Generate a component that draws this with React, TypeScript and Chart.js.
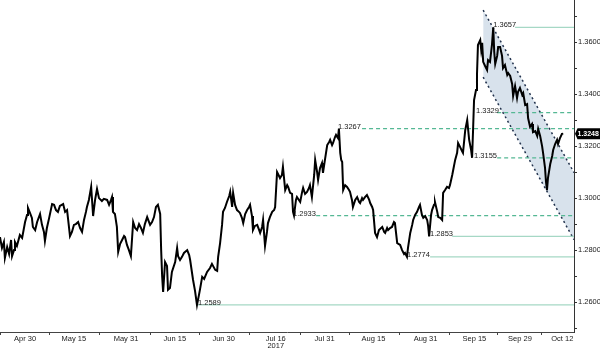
import React, { useEffect, useRef } from 'react';
import { Chart, registerables } from 'chart.js';

Chart.register(...registerables);

// x values: days since 1 Apr 2017 (Apr 30 = 29, Oct 12 = 194)
const days = [
  21.3, 21.9, 22.5, 22.8, 23.5, 24.1, 24.7, 25.0, 25.6, 25.9, 26.5, 27.4, 28.1, 29.0, 29.6, 29.9,
  30.5, 31.1, 31.4, 32.1, 32.7, 33.6, 34.2, 34.8, 35.1, 35.7, 36.4, 37.3, 37.9, 38.5, 39.1, 39.7,
  40.7, 41.3, 41.9, 42.8, 43.4, 44.0, 44.6, 45.3, 45.9, 46.5, 47.1, 47.7, 48.0, 48.6, 49.3, 49.9,
  50.5, 51.1, 51.7, 52.6, 53.2, 54.2, 54.8, 55.4, 55.7, 56.0, 56.6, 57.2, 57.6, 58.2, 58.8, 59.4,
  59.7, 60.3, 60.9, 61.5, 62.2, 62.8, 63.4, 64.0, 64.6, 65.2, 65.8, 66.5, 67.4, 68.0, 68.6, 69.2,
  69.8, 70.5, 70.8, 71.1, 71.4, 72.0, 72.6, 72.9, 73.5, 74.1, 75.1, 75.7, 76.0, 76.6, 77.2, 77.8,
  78.8, 79.4, 79.7, 80.6, 81.2, 81.8, 82.4, 82.7, 83.4, 84.0, 84.9, 85.8, 86.4, 87.4, 88.0, 88.3,
  88.9, 89.5, 89.8, 90.4, 91.0, 91.7, 92.0, 92.6, 92.9, 93.5, 94.1, 94.7, 95.0, 95.6, 96.0, 96.6,
  97.2, 97.8, 98.1, 98.7, 99.0, 99.6, 100.3, 100.9, 101.2, 101.8, 102.1, 102.7, 103.3, 103.6, 104.2, 104.9,
  105.5, 105.8, 106.4, 107.0, 107.3, 107.9, 108.2, 108.9, 109.5, 109.8, 110.4, 111.0, 111.3, 111.6, 112.2, 112.5,
  113.5, 114.1, 114.4, 115.0, 115.6, 116.2, 116.5, 117.1, 117.8, 118.1, 118.7, 119.0, 119.6, 120.2, 120.5, 121.1,
  121.8, 122.4, 122.7, 123.3, 123.6, 124.2, 124.5, 125.1, 125.4, 125.8, 126.1, 126.4, 126.7, 127.3, 127.9, 128.5,
  128.8, 129.4, 129.7, 130.4, 131.0, 131.6, 131.9, 132.5, 132.8, 133.4, 134.0, 134.7, 135.0, 135.6, 135.9, 136.5,
  137.1, 137.7, 138.7, 139.3, 139.6, 140.2, 140.5, 141.1, 141.7, 142.3, 142.6, 143.3, 144.2, 144.8, 145.4, 145.7,
  146.3, 146.6, 147.3, 147.9, 148.2, 148.8, 149.4, 150.0, 150.3, 150.9, 151.3, 151.9, 152.5, 152.8, 153.1, 153.7,
  154.0, 154.6, 154.9, 155.6, 155.9, 156.5, 157.1, 157.4, 158.0, 158.6, 159.2, 159.5, 160.2, 160.5, 161.1, 161.7,
  162.0, 162.6, 163.2, 163.5, 164.2, 164.8, 165.4, 166.0, 166.3, 166.6, 166.9, 167.5, 167.8, 168.1, 168.8, 169.1,
  169.4, 169.7, 170.3, 170.9, 171.2, 171.8, 172.4, 172.8, 173.1, 173.4, 174.0, 174.3, 174.9, 175.5, 175.8, 176.4,
  177.1, 177.4, 178.0, 178.6, 178.9, 179.5, 180.1, 180.4, 181.0, 181.7, 182.0, 182.6, 183.2, 183.5, 184.1, 184.7,
  185.0, 185.7, 186.3, 186.6, 187.2, 187.8, 188.1, 188.7, 189.0, 189.3, 189.6, 190.3, 190.9, 191.2, 191.8, 192.4,
  192.7, 193.3, 193.9, 194.3,
];

// GBP/USD
const prices = [
  1.2850, 1.2808, 1.2831, 1.2770, 1.2812, 1.2785, 1.2839, 1.2777, 1.2800, 1.2831, 1.2816, 1.2858, 1.2847, 1.2908, 1.2935, 1.2962,
  1.2943, 1.2924, 1.2889, 1.2877, 1.2908, 1.2939, 1.2897, 1.2870, 1.2835, 1.2885, 1.2924, 1.2977, 1.2974, 1.2954, 1.2947, 1.2970,
  1.2977, 1.2947, 1.2954, 1.2854, 1.2870, 1.2897, 1.2900, 1.2908, 1.2885, 1.2870, 1.2916, 1.2947, 1.2966, 1.2993, 1.3043, 1.2931,
  1.2993, 1.3035, 1.3000, 1.2989, 1.2997, 1.2993, 1.2974, 1.2993, 1.3004, 1.2947, 1.2939, 1.2889, 1.2793, 1.2824, 1.2839, 1.2854,
  1.2850, 1.2820, 1.2800, 1.2777, 1.2908, 1.2885, 1.2877, 1.2900, 1.2885, 1.2866, 1.2900, 1.2927, 1.2897, 1.2908, 1.2927, 1.2966,
  1.2974, 1.2939, 1.2800, 1.2700, 1.2639, 1.2754, 1.2739, 1.2647, 1.2654, 1.2716, 1.2754, 1.2808, 1.2777, 1.2762, 1.2774, 1.2789,
  1.2800, 1.2781, 1.2762, 1.2685, 1.2643, 1.2589, 1.2627, 1.2647, 1.2697, 1.2689, 1.2716, 1.2731, 1.2747, 1.2724, 1.2720, 1.2774,
  1.2827, 1.2897, 1.2947, 1.2962, 1.2985, 1.3008, 1.3024, 1.2966, 1.3020, 1.2974, 1.2954, 1.2947, 1.2943, 1.2924, 1.2904, 1.2939,
  1.2954, 1.2966, 1.2974, 1.2931, 1.2877, 1.2893, 1.2897, 1.2877, 1.2866, 1.2889, 1.2916, 1.2816, 1.2870, 1.2904, 1.2927, 1.2947,
  1.2954, 1.2966, 1.3100, 1.3085, 1.3077, 1.3089, 1.3120, 1.3031, 1.3050, 1.3043, 1.3020, 1.3016, 1.2947, 1.2933, 1.2993, 1.3004,
  1.2985, 1.3024, 1.3039, 1.3016, 1.3024, 1.3039, 1.3050, 1.3004, 1.3089, 1.3147, 1.3100, 1.3070, 1.3116, 1.3135, 1.3097, 1.3147,
  1.3204, 1.3216, 1.3224, 1.3204, 1.3212, 1.3235, 1.3243, 1.3231, 1.3267, 1.3174, 1.3147, 1.3139, 1.3031, 1.3050, 1.3043, 1.3031,
  1.3024, 1.2993, 1.2966, 1.2993, 1.3004, 1.2985, 1.2981, 1.3000, 1.2993, 1.3004, 1.3012, 1.2993, 1.2981, 1.2966, 1.2954, 1.2866,
  1.2850, 1.2877, 1.2889, 1.2870, 1.2866, 1.2885, 1.2877, 1.2885, 1.2889, 1.2908, 1.2904, 1.2827, 1.2820, 1.2800, 1.2785, 1.2789,
  1.2774, 1.2808, 1.2866, 1.2897, 1.2916, 1.2935, 1.2947, 1.2966, 1.2974, 1.2935, 1.2924, 1.2931, 1.2916, 1.2893, 1.2853, 1.2935,
  1.2954, 1.2974, 1.2985, 1.2947, 1.2927, 1.2924, 1.2916, 1.3020, 1.3031, 1.3043, 1.3039, 1.3050, 1.3089, 1.3108, 1.3147, 1.3174,
  1.3212, 1.3197, 1.3181, 1.3174, 1.3262, 1.3300, 1.3224, 1.3185, 1.3155, 1.3262, 1.3377, 1.3416, 1.3474, 1.3589, 1.3608, 1.3570,
  1.3597, 1.3524, 1.3508, 1.3493, 1.3531, 1.3524, 1.3589, 1.3657, 1.3562, 1.3516, 1.3547, 1.3581, 1.3581, 1.3547, 1.3500, 1.3512,
  1.3474, 1.3481, 1.3470, 1.3439, 1.3393, 1.3431, 1.3385, 1.3408, 1.3424, 1.3397, 1.3404, 1.3358, 1.3362, 1.3308, 1.3274, 1.3285,
  1.3254, 1.3258, 1.3239, 1.3266, 1.3239, 1.3200, 1.3174, 1.3116, 1.3062, 1.3031, 1.3077, 1.3131, 1.3162, 1.3185, 1.3208, 1.3224,
  1.3208, 1.3231, 1.3247, 1.3248,
];

const labelTickDays = [29, 44, 60, 75, 90, 106, 121, 136, 152, 167, 181, 194];
const labelTickTexts: (string | string[])[] = [
  'Apr 30', 'May 15', 'May 31', 'Jun 15', 'Jun 30', ['Jul 16', '2017'],
  'Jul 31', 'Aug 15', 'Aug 31', 'Sep 15', 'Sep 29', 'Oct 12',
];
const minorTickDays = [21.5, 36.5, 52, 67.5, 82.5, 98, 113.5, 128.5, 144, 159.5, 174, 187.5];

const yTickValues = [1.25, 1.26, 1.27, 1.28, 1.29, 1.30, 1.31, 1.32, 1.33, 1.34, 1.35, 1.36, 1.37];
const yLabelledTicks = [1.26, 1.28, 1.30, 1.32, 1.34, 1.36];

const levelValues = [1.3657, 1.3329, 1.3267, 1.3155, 1.2933, 1.2853, 1.2774, 1.2589];
const levelLabelDays = [172.8, 167.5, 125.1, 166.9, 111.3, 153.4, 146.3, 82.1];
const levelStartDays = [179.5, 174.0, 132.5, 174.0, 118.4, 160.2, 153.4, 82.1];
const levelDashed = [false, true, true, true, true, false, false, false];

const channelDays = [169.7, 197.6];
const channelUpper = [1.3723, 1.3098];
const channelLower = [1.3465, 1.2840];

const lastPrice = 1.3248;

const X_MIN = 21.3;
const X_MAX = 197.6;
const Y_MIN = 1.2485;
const Y_MAX = 1.3762;

const FONT = 'Liberation Sans, Arial, sans-serif';

export default function App() {
  const ref = useRef<HTMLCanvasElement | null>(null);

  useEffect(() => {
    if (!ref.current) return;
    const datasets: any[] = [];

    datasets.push({
      label: 'GBPUSD',
      data: days.map((d, i) => ({ x: d, y: prices[i] })),
      borderColor: '#000000',
      borderWidth: 2,
      pointRadius: 0,
      tension: 0,
      fill: false,
      order: 0,
    });

    datasets.push({
      label: 'channel upper',
      data: channelDays.map((d, i) => ({ x: d, y: channelUpper[i] })),
      borderColor: '#22324d',
      borderWidth: 1.5,
      borderDash: [2, 3],
      pointRadius: 0,
      backgroundColor: '#d8e2ec',
      fill: '+1',
      order: 5,
    });
    datasets.push({
      label: 'channel lower',
      data: channelDays.map((d, i) => ({ x: d, y: channelLower[i] })),
      borderColor: '#22324d',
      borderWidth: 1.5,
      borderDash: [2, 3],
      pointRadius: 0,
      fill: false,
      order: 4,
    });

    levelValues.forEach((v, i) => {
      datasets.push({
        label: 'level ' + v,
        data: [
          { x: levelStartDays[i], y: v },
          { x: X_MAX, y: v },
        ],
        borderColor: levelDashed[i] ? '#55b894' : '#a6d8c5',
        borderWidth: 1.2,
        borderDash: levelDashed[i] ? [4, 3] : [],
        pointRadius: 0,
        fill: false,
        order: 3,
      });
    });

    const labelsPlugin = {
      id: 'levelLabels',
      afterDatasetsDraw(chart: any) {
        const { ctx, scales } = chart;
        const xs = scales.x;
        const ys = scales.y;
        ctx.save();
        ctx.font = '7.5px ' + FONT;
        ctx.fillStyle = '#1a1a1a';
        ctx.textAlign = 'left';
        ctx.textBaseline = 'middle';
        levelValues.forEach((v, i) => {
          const px = xs.getPixelForValue(levelLabelDays[i]);
          const py = ys.getPixelForValue(v);
          ctx.fillText(v.toFixed(4), px, py - 2);
        });
        ctx.restore();
      },
      afterDraw(chart: any) {
        const { ctx, scales, chartArea } = chart;
        const ys = scales.y;
        const py = ys.getPixelForValue(lastPrice);
        const x0 = chartArea.right + 1;
        ctx.save();
        ctx.fillStyle = '#000';
        ctx.beginPath();
        ctx.moveTo(x0, py);
        ctx.lineTo(x0 + 2.5, py - 5.5);
        ctx.lineTo(x0 + 26, py - 5.5);
        ctx.lineTo(x0 + 26, py + 5.5);
        ctx.lineTo(x0 + 2.5, py + 5.5);
        ctx.closePath();
        ctx.fill();
        ctx.fillStyle = '#fff';
        ctx.font = 'bold 7px ' + FONT;
        ctx.textAlign = 'left';
        ctx.textBaseline = 'middle';
        ctx.fillText(lastPrice.toFixed(4), x0 + 2.5, py + 0.5);
        ctx.restore();
      },
    };

    const chart = new Chart(ref.current, {
      type: 'line',
      data: { datasets },
      options: {
        animation: false,
        responsive: false,
        maintainAspectRatio: false,
        layout: { padding: 0 },
        plugins: {
          legend: { display: false },
          tooltip: { enabled: false },
          title: { display: false },
        },
        scales: {
          x: {
            type: 'linear',
            min: X_MIN,
            max: X_MAX,
            afterBuildTicks: (scale: any) => {
              const all = [...labelTickDays, ...minorTickDays].sort((a, b) => a - b);
              scale.ticks = all.map((v) => ({ value: v }));
            },
            afterFit: (scale: any) => {
              scale.height = 16;
              scale.paddingLeft = 0;
              scale.paddingRight = 0;
            },
            ticks: {
              autoSkip: false,
              maxRotation: 0,
              minRotation: 0,
              padding: 0,
              color: '#1a1a1a',
              font: { family: FONT, size: 7.5, lineHeight: 1.0 },
              callback: (value: any) => {
                const idx = labelTickDays.indexOf(Number(value));
                return idx >= 0 ? labelTickTexts[idx] : '';
              },
            },
            grid: {
              drawOnChartArea: false,
              drawTicks: true,
              tickLength: 3,
              tickColor: (ctx: any) =>
                ctx.tick && labelTickDays.indexOf(ctx.tick.value) >= 0 ? 'rgba(0,0,0,0)' : '#444',
            },
            border: { display: true, color: '#444', width: 1 },
          },
          y: {
            type: 'linear',
            position: 'right',
            min: Y_MIN,
            max: Y_MAX,
            afterBuildTicks: (scale: any) => {
              scale.ticks = yTickValues.map((v) => ({ value: v }));
            },
            afterFit: (scale: any) => {
              scale.width = 26;
              scale.paddingTop = 0;
              scale.paddingBottom = 0;
            },
            ticks: {
              padding: 1,
              color: '#1a1a1a',
              font: { family: FONT, size: 7.5 },
              callback: (value: any) => {
                const v = Number(value);
                const hit = yLabelledTicks.some((t) => Math.abs(t - v) < 1e-6);
                return hit ? v.toFixed(4) : '';
              },
            },
            grid: {
              drawOnChartArea: false,
              drawTicks: true,
              tickLength: 3,
              tickColor: '#333',
            },
            border: { display: true, color: '#333', width: 1 },
          },
        },
      },
      plugins: [labelsPlugin],
    } as any);

    return () => {
      chart.destroy();
    };
  }, []);

  return (
    <div style={{ position: 'fixed', left: 0, top: 0, width: 600, height: 348, background: '#fff' }}>
      <canvas ref={ref} width={600} height={348} style={{ width: 600, height: 348, display: 'block' }} />
    </div>
  );
}
